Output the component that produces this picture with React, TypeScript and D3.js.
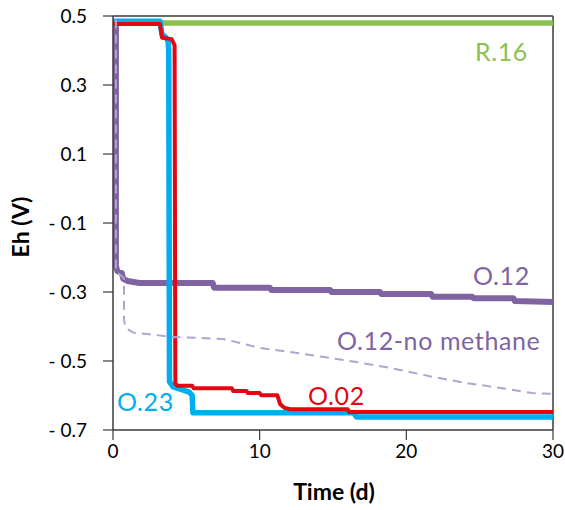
import React, { useEffect } from "react";
import * as d3 from "d3";

// ---- data ----
const yTicks = [0.5, 0.3, 0.1, -0.1, -0.3, -0.5, -0.7];
const xTicks = [0, 10, 20, 30];

const r16Time = [0, 30];
const r16Eh = [0.48, 0.48];

const o23Time = [0, 3.2, 3.35, 3.55, 3.75, 3.8, 3.85, 4.1, 5.2, 5.4, 5.45, 16.4, 16.6, 30];
const o23Eh = [0.485, 0.485, 0.445, 0.44, 0.43, 0.4, -0.56, -0.575, -0.59, -0.6, -0.65, -0.65, -0.662, -0.662];

const o02Time = [0, 3.2, 3.35, 4.0, 4.2, 4.25, 4.4, 5.4, 5.5, 8.1, 8.2, 9.1, 9.2, 10.0, 10.1, 11.2, 11.4, 11.7, 12.1, 16.0, 16.1, 30];
const o02Eh = [0.477, 0.477, 0.437, 0.433, 0.415, -0.565, -0.572, -0.572, -0.579, -0.579, -0.587, -0.587, -0.593, -0.593, -0.599, -0.599, -0.625, -0.636, -0.64, -0.64, -0.648, -0.648];

const o12Time = [0.2, 0.2, 0.3, 0.6, 0.7, 1.0, 1.8, 6.8, 6.9, 10.7, 10.8, 14.8, 14.9, 18.2, 18.3, 21.7, 21.8, 24.5, 24.6, 27.3, 27.4, 30];
const o12Eh = [0.49, -0.225, -0.24, -0.245, -0.262, -0.268, -0.274, -0.274, -0.288, -0.288, -0.294, -0.294, -0.3, -0.3, -0.306, -0.306, -0.314, -0.314, -0.318, -0.318, -0.326, -0.329];

const noMethTime = [0.2, 0.2, 0.75, 0.75, 0.85, 1.4, 3.0, 3.9, 7.5, 8.7, 10.0, 12.1, 14.3, 16.6, 18.9, 21.8, 24.1, 26.4, 28.6, 30];
const noMethEh = [0.49, -0.24, -0.26, -0.38, -0.404, -0.418, -0.425, -0.43, -0.436, -0.448, -0.462, -0.474, -0.488, -0.503, -0.52, -0.546, -0.564, -0.578, -0.593, -0.595];

const W = 565;
const H = 510;
const plot = { left: 113, right: 553, top: 16, bottom: 430 };

const COLORS = {
  green: "#8cc152",
  blue: "#00aeef",
  red: "#e30613",
  purple: "#8064a2",
  lightPurple: "#b4a2cf",
  axis: "#3a3a3a",
};

const FONT = "Lato, 'Open Sans', sans-serif";

export default function App() {
  useEffect(() => {
    document.body.style.margin = "0";
  }, []);

  const x = d3.scaleLinear().domain([0, 30]).range([plot.left, plot.right]);
  const y = d3.scaleLinear().domain([-0.7, 0.5]).range([plot.bottom, plot.top]);

  const line = d3
    .line<[number, number]>()
    .x((d) => x(d[0]))
    .y((d) => y(d[1]));

  const zip = (t: number[], v: number[]) => t.map((tt, i) => [tt, v[i]] as [number, number]);

  const fmt = (v: number) => (v < 0 ? "- " + Math.abs(v).toFixed(1) : v.toFixed(1));

  const labelStyle = { letterSpacing: "0.6px" };

  return (
    <svg width={W} height={H} style={{ display: "block", background: "#fff" }} fontFamily={FONT}>
      <rect x={0} y={0} width={W} height={H} fill="#fff" />
      <defs>
        <clipPath id="plotclip">
          <rect x={plot.left} y={plot.top - 4} width={plot.right - plot.left + 1} height={plot.bottom - plot.top + 4} />
        </clipPath>
      </defs>

      {/* frame */}
      <line x1={plot.left} x2={plot.right} y1={plot.top} y2={plot.top} stroke={COLORS.axis} strokeWidth={1.5} />
      <line x1={plot.right} x2={plot.right} y1={plot.top} y2={plot.bottom} stroke={COLORS.axis} strokeWidth={1.5} />

      {/* series */}
      <g clipPath="url(#plotclip)" fill="none" strokeLinejoin="round">
        <path d={line(zip(r16Time, r16Eh)) || ""} stroke={COLORS.green} strokeWidth={5.5} />
        <path d={line(zip(o12Time, o12Eh)) || ""} stroke={COLORS.purple} strokeWidth={6} />
        <path d={line(zip(o23Time, o23Eh)) || ""} stroke={COLORS.blue} strokeWidth={5.5} />
        <path d={line(zip(o02Time, o02Eh)) || ""} stroke={COLORS.red} strokeWidth={4} />
        <path d={line(zip(noMethTime, noMethEh)) || ""} stroke={COLORS.lightPurple} strokeWidth={2} strokeDasharray="9 6" />
      </g>

      {/* axes */}
      <line x1={plot.left} x2={plot.left} y1={plot.top} y2={plot.bottom} stroke={COLORS.axis} strokeWidth={1.5} />
      <line x1={plot.left} x2={plot.right} y1={plot.bottom} y2={plot.bottom} stroke={COLORS.axis} strokeWidth={1.5} />

      {yTicks.map((v) => (
        <g key={"y" + v}>
          <line x1={plot.left - 10} x2={plot.left} y1={y(v)} y2={y(v)} stroke={COLORS.axis} strokeWidth={1.2} />
          <text x={87} y={y(v) + 2} textAnchor="end" dominantBaseline="middle" fontSize={19} fill="#000">
            {fmt(v)}
          </text>
        </g>
      ))}
      {xTicks.map((v) => (
        <g key={"x" + v}>
          <line x1={x(v)} x2={x(v)} y1={plot.bottom} y2={plot.bottom + 10} stroke={COLORS.axis} strokeWidth={1.2} />
          <text x={x(v)} y={453} textAnchor="middle" dominantBaseline="middle" fontSize={19} fill="#000">
            {v}
          </text>
        </g>
      ))}

      <text x={334} y={494} textAnchor="middle" dominantBaseline="middle" fontSize={23} fontWeight="bold" fill="#000">
        Time (d)
      </text>
      <text
        transform={`translate(23, 227) rotate(-90)`}
        textAnchor="middle"
        dominantBaseline="middle"
        fontSize={23}
        fontWeight="bold"
        fill="#000"
      >
        Eh (V)
      </text>

      {/* series labels */}
      <text x={475} y={55} dominantBaseline="middle" fontSize={25} fill={COLORS.green} style={labelStyle}>R.16</text>
      <text x={473} y={279} dominantBaseline="middle" fontSize={25} fill={COLORS.purple} style={labelStyle}>O.12</text>
      <text x={337} y={344} dominantBaseline="middle" fontSize={25} fill={COLORS.purple} style={labelStyle}>O.12-no methane</text>
      <text x={308} y={399} dominantBaseline="middle" fontSize={25} fill={COLORS.red} style={labelStyle}>O.02</text>
      <text x={117} y={405} dominantBaseline="middle" fontSize={25} fill={COLORS.blue} style={labelStyle}>O.23</text>
    </svg>
  );
}
